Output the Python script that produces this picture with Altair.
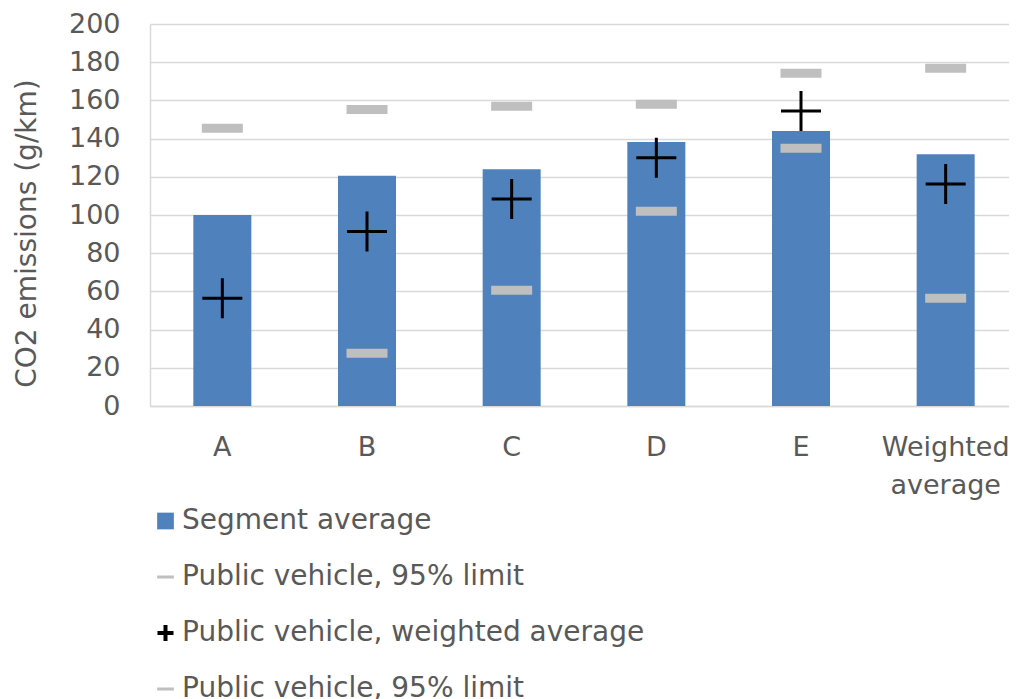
import altair as alt
import pandas as pd

categories = ["A", "B", "C", "D", "E", "Weighted average"]
segment_average = [100.0, 120.6, 124.0, 138.2, 144.0, 131.8]
weighted_average = [56.4, 91.3, 108.4, 130.0, 154.5, 116.2]
limit_upper = [145.4, 155.3, 156.9, 158.0, 174.2, 176.8]
limit_lower = [None, 27.6, 60.6, 101.9, 134.9, 56.4]
y_ticks = [0, 20, 40, 60, 80, 100, 120, 140, 160, 180, 200]

legend_keys = ["s1", "s2", "s3", "s4"]
legend_labels = [
    "Segment average",
    "Public vehicle, 95% limit",
    "Public vehicle, weighted average",
    "Public vehicle, 95% limit",
]
legend_colors = ["#4F81BD", "#BFBFBF", "#000000", "#BFBFBF"]
legend_shapes = [
    "M-1,-1H1V1H-1Z",
    "M-1,-0.18H1V0.18H-1Z",
    "M-0.24,-0.96H0.24V-0.24H0.96V0.24H0.24V0.96H-0.24V0.24H-0.96V-0.24H-0.24Z",
    "M-1,-0.18H1V0.18H-1Z",
]
# legend-only points sit hidden behind the first bar
legend_anchor_value = [50, 50, 50, 50]

FONT = "DejaVu Sans"
TEXT = "#595959"

df = pd.DataFrame({
    "cat": categories,
    "seg": segment_average,
    "wavg": weighted_average,
    "up": limit_upper,
    "low": limit_lower,
})
df_low = df.dropna(subset=["low"])
df_leg = pd.DataFrame({"series": legend_keys, "cat": [categories[0]] * 4, "v": legend_anchor_value})

x_scale = alt.Scale(domain=categories, range=[0, 868], paddingInner=0, paddingOuter=0)
x_axis = alt.Axis(
    title=None, labelAngle=0, ticks=False, grid=False,
    domainColor="#D9D9D9", domainWidth=1.5,
    labelFont=FONT, labelFontSize=27, labelColor=TEXT,
    labelPadding=28, labelLineHeight=38, labelLimit=0, labelOverlap=False,
    labelExpr="datum.value == 'Weighted average' ? ['Weighted', 'average'] : datum.value",
)

y_scale = alt.Scale(domain=[0, 200], nice=False)
y_axis = alt.Axis(
    title="CO2 emissions (g/km)", values=y_ticks, ticks=False, tickSize=0,
    grid=True, gridColor="#D9D9D9", gridWidth=1.3, labelOverlap=False,
    domainColor="#D9D9D9", domainWidth=1.5,
    labelFont=FONT, labelFontSize=27, labelColor=TEXT, labelPadding=30,
    titleFont=FONT, titleFontSize=28, titleColor=TEXT, titleFontWeight="normal",
    titleAngle=-90, titleX=-115, titleY=209, titleAlign="center", titleBaseline="alphabetic",
)


def xe():
    return alt.X("cat:N", sort=categories, scale=x_scale, axis=x_axis)


def ye(field):
    return alt.Y(field, scale=y_scale, axis=y_axis)


base = alt.Chart(df)

label_expr = " : ".join(
    [f"datum.value == '{k}' ? '{l}'" for k, l in zip(legend_keys, legend_labels)]
) + " : ''"

legend_props = dict(
    title=None, orient="none", legendX=1.5, legendY=483, padding=0,
    direction="vertical", labelExpr=label_expr,
    labelFont=FONT, labelFontSize=28, labelColor=TEXT, labelLimit=0,
    labelOffset=2.5, symbolSize=279, rowPadding=28, symbolStrokeWidth=0,
    symbolOpacity=1,
)

legend_layer = alt.Chart(df_leg).mark_point(filled=True, opacity=1).encode(
    x=xe(),
    y=ye("v:Q"),
    color=alt.Color(
        "series:N",
        scale=alt.Scale(domain=legend_keys, range=legend_colors),
        legend=alt.Legend(**legend_props),
    ),
    shape=alt.Shape(
        "series:N",
        scale=alt.Scale(domain=legend_keys, range=legend_shapes),
        legend=alt.Legend(**legend_props),
    ),
)

bars = base.mark_bar(color="#4F81BD", size=58).encode(x=xe(), y=ye("seg:Q"))

ticks_up = base.mark_tick(color="#BFBFBF", size=41, thickness=9, opacity=1).encode(
    x=xe(), y=ye("up:Q")
)

ticks_low = alt.Chart(df_low).mark_tick(color="#BFBFBF", size=41, thickness=9, opacity=1).encode(
    x=xe(), y=ye("low:Q")
)

plus = base.mark_point(
    shape="M-1,0H1M0,-1V1", size=1600, filled=False, stroke="#000000",
    strokeWidth=3, opacity=1,
).encode(x=xe(), y=ye("wavg:Q"))

chart = alt.layer(legend_layer, bars, ticks_up, ticks_low, plus).properties(
    width=859,
    height=382,
    padding={"left": 142, "top": 16, "right": 0, "bottom": 293},
    autosize=alt.AutoSizeParams(type="none"),
    background="#FFFFFF",
).configure_view(stroke=None)

chart.save("out.html", embed_options={"renderer": "svg", "actions": False})
